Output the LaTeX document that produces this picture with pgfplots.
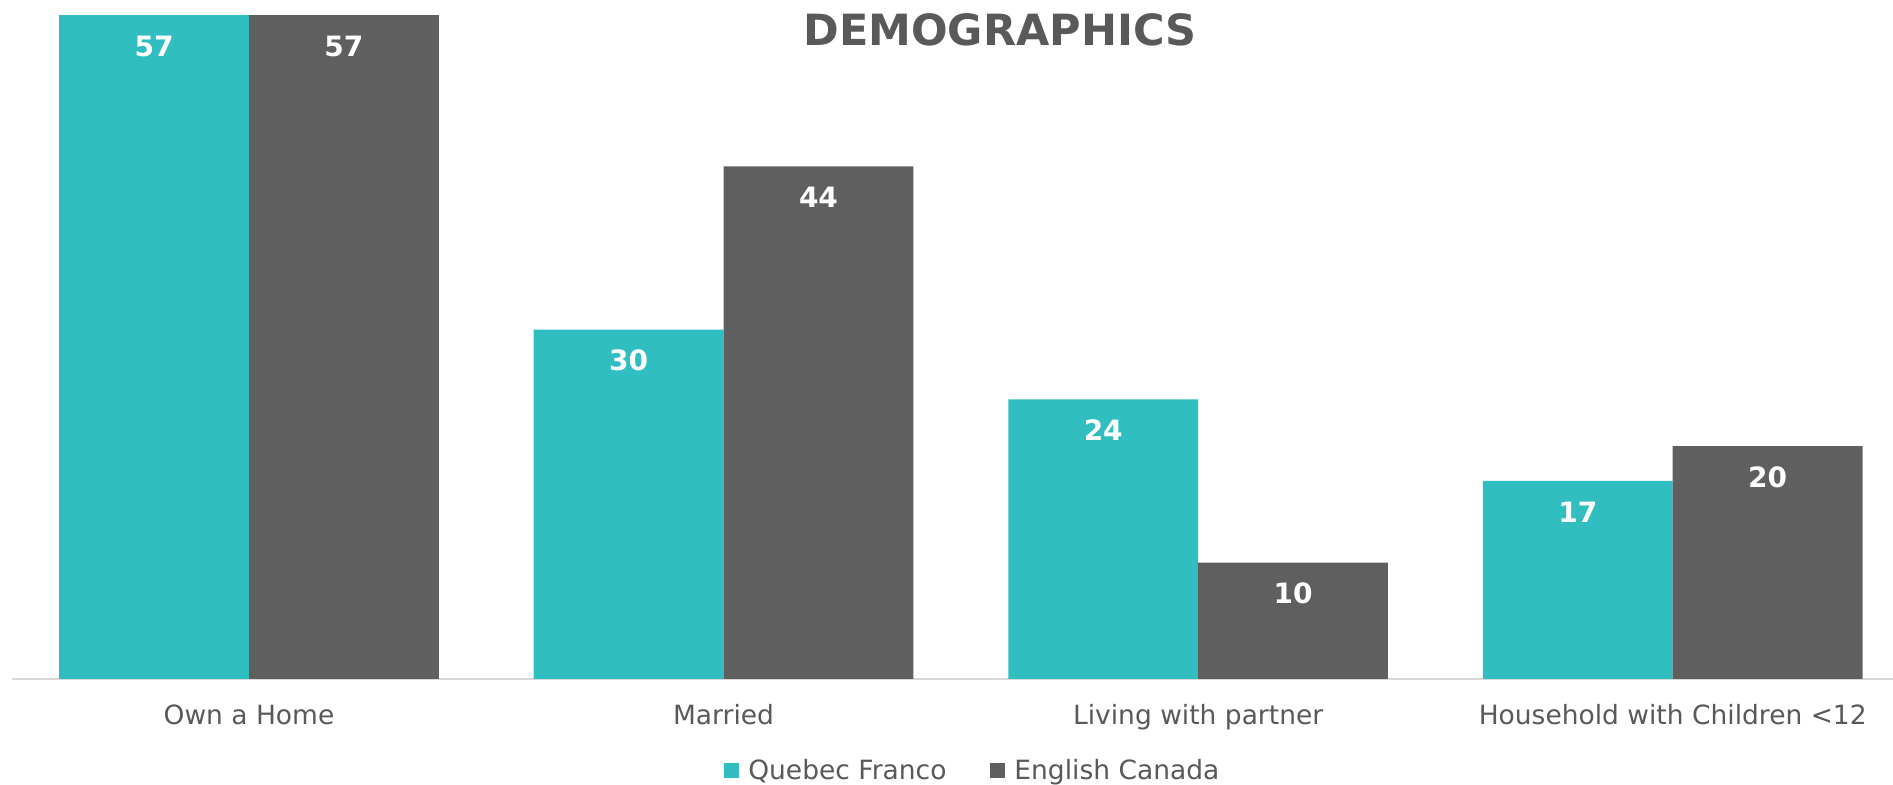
\documentclass[border=0pt]{standalone}
\usepackage{fontspec}
\setmainfont{DejaVu Sans}
\usepackage{pgfplots}
\pgfplotsset{compat=1.18}
\definecolor{teal1}{HTML}{30BEC1}
\definecolor{gray1}{HTML}{5F5F5F}
\definecolor{txt}{HTML}{595959}
\definecolor{axln}{HTML}{D9D9D9}
\begin{document}
\begin{tikzpicture}
\useasboundingbox (0,0) rectangle (946.5bp,392.5bp);
\begin{axis}[
 at={(6bp,53bp)}, anchor=south west,
 scale only axis, width=940.5bp, height=332bp,
 xmin=-0.4994, xmax=3.4642, ymin=0, ymax=57,
 ybar=0pt, bar width=0.4,
 axis x line*=bottom, axis y line=none,
 x axis line style={draw=axln, line width=1bp, -},
 xtick={0,1,2,3},
 xticklabels={Own a Home, Married, Living with partner, Household with Children <12},
 major tick length=0pt,
 xticklabel style={font=\fontsize{13.25bp}{16bp}\selectfont, text=txt, anchor=base, yshift=-23bp},
 nodes near coords,
 nodes near coords style={font=\fontsize{14bp}{16bp}\selectfont\bfseries, text=white, anchor=center, yshift=-15.5bp},
 /pgf/number format/assume math mode=true,
 legend columns=2,
 legend style={draw=none, at={(0.3785,-0.1378)}, anchor=west,
   font=\fontsize{13.25bp}{16bp}\selectfont, text=txt, inner sep=0pt,
   /tikz/every odd column/.append style={column sep=2.5bp},
   /tikz/every even column/.append style={column sep=20bp}},
]
\addplot[fill=teal1, draw=none, bar shift=-0.2,
  legend image code/.code={\fill[teal1] (0bp,-3.75bp) rectangle (7.5bp,3.75bp);}]
  coordinates {(0,57) (1,30) (2,24) (3,17)};
\addplot[fill=gray1, draw=none, bar shift=0.2,
  legend image code/.code={\fill[gray1] (0bp,-3.75bp) rectangle (7.5bp,3.75bp);}]
  coordinates {(0,57) (1,44) (2,10) (3,20)};
\legend{Quebec Franco, English Canada}
\end{axis}
\node[anchor=base, font=\fontsize{21.5bp}{26bp}\selectfont\bfseries, text=txt] at (500bp,369.5bp) {DEMOGRAPHICS};
\end{tikzpicture}
\end{document}
